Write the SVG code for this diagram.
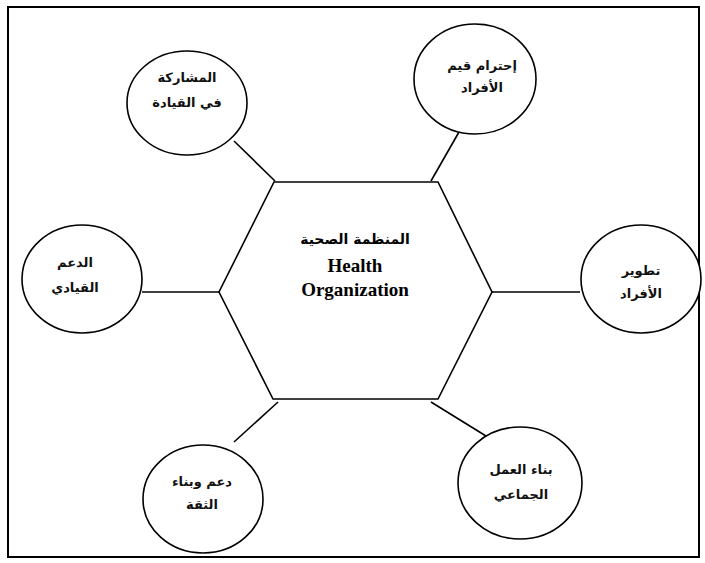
<svg xmlns="http://www.w3.org/2000/svg" width="705" height="563" viewBox="0 0 705 563">
<style>
.n{fill:#fff;stroke:#000;stroke-width:1.6}
.c{stroke:#000;stroke-width:1.6;fill:none}
.ar{font-family:"DejaVu Sans",sans-serif;font-size:13px;font-weight:bold;fill:#111;text-anchor:middle}
.ce{font-family:"DejaVu Sans",sans-serif;font-size:14px;font-weight:bold;fill:#000;text-anchor:middle}
.en{font-family:"Liberation Serif","Times New Roman",serif;font-size:19px;font-weight:bold;fill:#000;text-anchor:middle}
</style>
<rect x="0" y="0" width="705" height="563" fill="#fff"/>
<rect x="8" y="7" width="691" height="550" fill="none" stroke="#000" stroke-width="2"/>
<g id="connectors">
<line class="c" x1="234" y1="141" x2="275" y2="181"/>
<line class="c" x1="459" y1="132" x2="431" y2="181"/>
<line class="c" x1="142" y1="292" x2="219" y2="292"/>
<line class="c" x1="492" y1="292" x2="580" y2="292"/>
<line class="c" x1="234" y1="442" x2="278" y2="402"/>
<line class="c" x1="431" y1="402" x2="486" y2="436"/>
</g>
<g id="center">
<polygon class="n" points="274,182 438,182 492,292 438,399 273,399 219,292"/>
<text class="ce" x="355" y="244" direction="rtl">المنظمة الصحية</text>
<text class="en" x="355" y="272">Health</text>
<text class="en" x="355" y="296">Organization</text>
</g>
<g id="n1">
<ellipse class="n" cx="187" cy="103" rx="60" ry="52"/>
<text class="ar" x="187" y="82" direction="rtl">المشاركة</text>
<text class="ar" x="187" y="107" direction="rtl">في القيادة</text>
</g>
<g id="n2">
<ellipse class="n" cx="475" cy="79" rx="61" ry="55"/>
<text class="ar" x="482" y="70" direction="rtl">إحترام قيم</text>
<text class="ar" x="482" y="92" direction="rtl">الأفراد</text>
</g>
<g id="n3">
<ellipse class="n" cx="82" cy="279" rx="60" ry="54"/>
<text class="ar" x="75" y="267" direction="rtl">الدعم</text>
<text class="ar" x="75" y="292" direction="rtl">القيادي</text>
</g>
<g id="n4">
<ellipse class="n" cx="641" cy="279" rx="60" ry="54"/>
<text class="ar" x="641" y="275" direction="rtl">تطوير</text>
<text class="ar" x="641" y="298" direction="rtl">الأفراد</text>
</g>
<g id="n5">
<ellipse class="n" cx="203" cy="499" rx="60" ry="54"/>
<text class="ar" x="202" y="486" direction="rtl">دعم وبناء</text>
<text class="ar" x="202" y="509" direction="rtl">الثقة</text>
</g>
<g id="n6">
<ellipse class="n" cx="520" cy="483" rx="62" ry="56"/>
<text class="ar" x="521" y="474" direction="rtl">بناء العمل</text>
<text class="ar" x="521" y="499" direction="rtl">الجماعي</text>
</g>
</svg>
